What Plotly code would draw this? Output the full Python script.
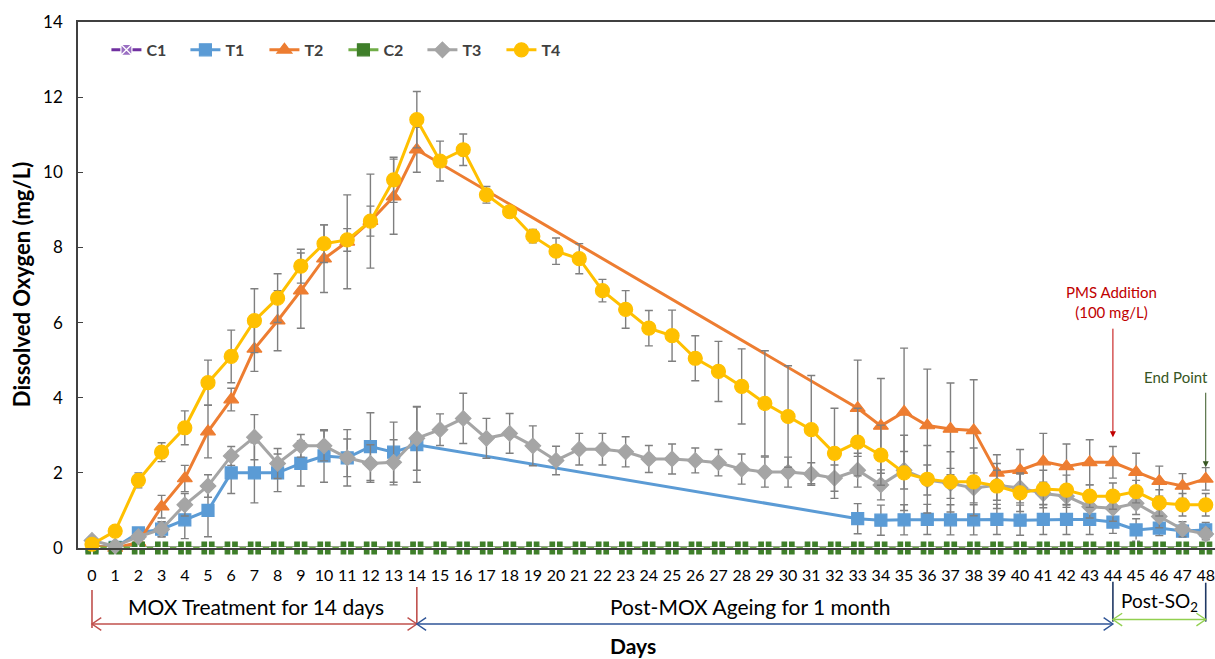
import plotly.graph_objects as go

days = [0, 1, 2, 3, 4, 5, 6, 7, 8, 9, 10, 11, 12, 13, 14, 15, 16, 17, 18, 19, 20, 21, 22, 23, 24,
        25, 26, 27, 28, 29, 30, 31, 32, 33, 34, 35, 36, 37, 38, 39, 40, 41, 42, 43, 44, 45, 46, 47, 48]
day_labels = [str(d) for d in days]

C1 = [0.0, 0.0, 0.0, 0.0, 0.0, 0.0, 0.0, 0.0, 0.0, 0.0, 0.0, 0.0, 0.0, 0.0, 0.0, 0.0, 0.0, 0.0, 0.0, 0.0,
      0.0, 0.0, 0.0, 0.0, 0.0, 0.0, 0.0, 0.0, 0.0, 0.0, 0.0, 0.0, 0.0, 0.0, 0.0, 0.0, 0.0, 0.0, 0.0, 0.0,
      0.0, 0.0, 0.0, 0.0, 0.0, 0.0, 0.0, 0.0, 0.0]
C2 = [0.0, 0.0, 0.0, 0.0, 0.0, 0.0, 0.0, 0.0, 0.0, 0.0, 0.0, 0.0, 0.0, 0.0, 0.0, 0.0, 0.0, 0.0, 0.0, 0.0,
      0.0, 0.0, 0.0, 0.0, 0.0, 0.0, 0.0, 0.0, 0.0, 0.0, 0.0, 0.0, 0.0, 0.0, 0.0, 0.0, 0.0, 0.0, 0.0, 0.0,
      0.0, 0.0, 0.0, 0.0, 0.0, 0.0, 0.0, 0.0, 0.0]

T1 = [0.05, 0.02, 0.4, 0.5, 0.75, 1.0, 2.0, 2.0, 2.0, 2.25, 2.45, 2.4, 2.7, 2.55, 2.75,
      None, None, None, None, None, None, None, None, None, None, None, None, None, None, None, None, None, None,
      0.78, 0.74, 0.75, 0.76, 0.75, 0.75, 0.76, 0.74, 0.76, 0.76, 0.76, 0.69, 0.48, 0.53, 0.45, 0.48]
T1_err = [0.05, 0.05, 0.1, 0.2, 0.5, 0.7, 0.55, 0.8, 0.5, 0.6, 0.7, 0.5, 0.9, 0.8, 1.0,
          None, None, None, None, None, None, None, None, None, None, None, None, None, None, None, None, None, None,
          0.4, 0.4, 0.4, 0.4, 0.4, 0.4, 0.4, 0.4, 0.4, 0.4, 0.4, 0.3, 0.3, 0.2, 0.15, 0.2]

T2 = [0.05, 0.0, 0.15, 1.1, 1.85, 3.1, 3.95, 5.3, 6.05, 6.85, 7.7, 8.15, 8.7, 9.35, 10.6,
      None, None, None, None, None, None, None, None, None, None, None, None, None, None, None, None, None, None,
      3.72, 3.25, 3.62, 3.26, 3.17, 3.13, 2.0, 2.07, 2.3, 2.17, 2.28, 2.28, 2.02, 1.78, 1.65, 1.84]
T2_err = [0.05, 0.05, 0.1, 0.3, 0.35, 0.7, 0.3, 0.6, 0.8, 1.0, 0.9, 1.25, 0.4, 1.0, 0.6,
          None, None, None, None, None, None, None, None, None, None, None, None, None, None, None, None, None, None,
          1.28, 1.26, 1.7, 1.5, 1.22, 1.35, 0.48, 0.55, 0.75, 0.6, 0.6, 0.42, 0.5, 0.4, 0.33, 0.3]

T3 = [0.2, 0.05, 0.3, 0.5, 1.15, 1.65, 2.45, 2.95, 2.25, 2.72, 2.72, 2.4, 2.25, 2.28, 2.92,
      3.15, 3.45, 2.92, 3.05, 2.72, 2.33, 2.63, 2.63, 2.56, 2.37, 2.37, 2.33, 2.27, 2.1, 2.02,
      2.02, 1.97, 1.86, 2.07, 1.68, 2.07, 1.81, 1.72, 1.6, 1.67, 1.6, 1.45, 1.38, 1.1, 1.06,
      1.19, 0.84, 0.5, 0.37]
T3_err = [0.1, 0.05, 0.1, 0.2, 0.3, 0.3, 0.25, 0.6, 0.4, 0.3, 0.4, 0.75, 0.5, 0.6, 0.85,
          0.42, 0.67, 0.53, 0.53, 0.53, 0.38, 0.42, 0.42, 0.4, 0.36, 0.4, 0.33, 0.35, 0.4, 0.4,
          0.4, 0.3, 0.35, 0.45, 0.4, 0.5, 0.4, 0.4, 0.4, 0.4, 0.4, 0.3, 0.3, 0.3, 0.35,
          0.3, 0.3, 0.2, 0.15]

T4 = [0.1, 0.45, 1.8, 2.55, 3.2, 4.4, 5.1, 6.05, 6.65, 7.5, 8.1, 8.2, 8.7, 9.8, 11.4,
      10.3, 10.6, 9.4, 8.95, 8.3, 7.9, 7.7, 6.85, 6.35, 5.85, 5.65, 5.05, 4.7, 4.3, 3.85,
      3.5, 3.15, 2.52, 2.82, 2.47, 2.0, 1.83, 1.76, 1.76, 1.65, 1.47, 1.57, 1.54, 1.38, 1.38,
      1.5, 1.2, 1.15, 1.15]
T4_err = [0.1, 0.1, 0.2, 0.25, 0.45, 0.6, 0.7, 0.85, 0.65, 0.45, 0.5, 0.3, 1.25, 0.6, 0.75,
          0.53, 0.42, 0.22, 0.15, 0.18, 0.35, 0.4, 0.3, 0.5, 0.47, 0.68, 0.6, 0.8, 1.0, 1.4,
          1.35, 1.44, 1.2, 0.9, 0.8, 1.0, 0.9, 0.8, 0.9, 0.6, 0.5, 0.5, 0.4, 0.3, 0.35,
          0.3, 0.35, 0.3, 0.3]

FONT = "Lato"
ERR_COLOR = "#7F7F7F"

fig = go.Figure()


def add_series(name, y, err, color, symbol, size, mcolor=None, mline=None):
    kw = {}
    if err is not None:
        kw["error_y"] = dict(type="data", array=err, visible=True, color=ERR_COLOR,
                             thickness=1.4, width=4)
    fig.add_trace(go.Scatter(
        x=days, y=y, name=name, mode="lines+markers", connectgaps=True, cliponaxis=False,
        line=dict(color=color, width=3),
        marker=dict(symbol=symbol, size=size, color=mcolor or color,
                    line=dict(color=mline or (mcolor or color), width=1.2)),
        **kw))


add_series("C1", C1, None, "#7030A0", "square-x", 11, mcolor="#9A6FC2", mline="#FFFFFF")
add_series("T1", T1, T1_err, "#5B9BD5", "square", 12)
add_series("T2", T2, T2_err, "#ED7D31", "triangle-up", 13)
add_series("C2", C2, None, "#70AD47", "square", 12, mcolor="#3F7F2A", mline="#3F7F2A")
# white cross drawn over the green squares
fig.add_trace(go.Scatter(x=days, y=C2, mode="markers", showlegend=False, hoverinfo="skip",
                         cliponaxis=False,
                         marker=dict(symbol="cross-thin", size=12, color="#FFFFFF",
                                     line=dict(color="#FFFFFF", width=1.8))))
add_series("T3", T3, T3_err, "#A5A5A5", "diamond", 12)
add_series("T4", T4, T4_err, "#FFC000", "circle", 14)

# ---- bottom period annotations (shapes) ----
shapes = []
head_dx = 0.40
head_dy = 0.012


def vline(xd, y0, y1, color):
    shapes.append(dict(type="line", xref="x", yref="paper", x0=xd, x1=xd, y0=y0, y1=y1,
                       line=dict(color=color, width=1.6)))


def harrow(xa, xb, ya, color):
    shapes.append(dict(type="line", xref="x", yref="paper", x0=xa, x1=xb, y0=ya, y1=ya,
                       line=dict(color=color, width=1.4)))
    for xt, sgn in ((xa, 1), (xb, -1)):
        shapes.append(dict(type="path", xref="x", yref="paper",
                           path=f"M {xt + sgn * head_dx},{ya + head_dy} L {xt},{ya} L {xt + sgn * head_dx},{ya - head_dy}",
                           line=dict(color=color, width=1.4)))


vline(0, -0.080, -0.152, "#C0504D")
vline(14, -0.074, -0.143, "#C0504D")
vline(44, -0.064, -0.140, "#1F3864")
vline(48, -0.066, -0.140, "#1F3864")
harrow(0, 14, -0.1445, "#C0504D")
harrow(14, 44, -0.1445, "#2F5597")
harrow(44, 48, -0.136, "#92D050")

annotations = [
    dict(text="MOX Treatment for 14 days", x=7.05, y=-0.112, xref="x", yref="paper",
         xanchor="center", yanchor="middle",
         showarrow=False, font=dict(family=FONT, size=21, color="#000000")),
    dict(text="Post-MOX Ageing for 1 month", x=28.4, y=-0.112, xref="x", yref="paper",
         xanchor="center", yanchor="middle",
         showarrow=False, font=dict(family=FONT, size=21, color="#000000")),
    dict(text="Post-SO<sub>2</sub>", x=46.0, y=-0.103, xref="x", yref="paper",
         xanchor="center", yanchor="middle",
         showarrow=False, font=dict(family=FONT, size=19, color="#000000")),
    dict(text="<b>Days</b>", x=0.488, y=-0.185, xref="paper", yref="paper",
         xanchor="center", yanchor="middle",
         showarrow=False, font=dict(family=FONT, size=21, color="#000000")),
    dict(text="<b>Dissolved Oxygen (mg/L)</b>", x=-0.05, y=0.5, xref="paper", yref="paper",
         xanchor="center", yanchor="middle",
         textangle=-90, showarrow=False, font=dict(family=FONT, size=22, color="#000000")),
    dict(text="PMS Addition<br>(100 mg/L)", x=43.95, y=6.55, xref="x", yref="y",
         showarrow=False, font=dict(family=FONT, size=15, color="#C00000")),
    dict(text="", x=44, y=2.95, xref="x", yref="y", ax=0, ay=-110, showarrow=True,
         arrowhead=2, arrowsize=1.2, arrowwidth=1, arrowcolor="#C00000"),
    dict(text="End Point", x=46.7, y=4.55, xref="x", yref="y",
         showarrow=False, font=dict(family=FONT, size=15, color="#375623")),
    dict(text="", x=48, y=2.15, xref="x", yref="y", ax=0, ay=-76, showarrow=True,
         arrowhead=2, arrowsize=1.2, arrowwidth=1, arrowcolor="#375623"),
]

fig.update_layout(
    width=1215, height=659,
    margin=dict(l=78, r=0, t=22, b=111),
    plot_bgcolor="#FFFFFF", paper_bgcolor="#FFFFFF",
    font=dict(family=FONT, size=16, color="#000000"),
    showlegend=True,
    legend=dict(orientation="h", x=0.025, y=0.947, xanchor="left", yanchor="middle",
                font=dict(family=FONT, size=16, color="#404040", weight="bold"),
                bgcolor="rgba(0,0,0,0)", entrywidth=34, entrywidthmode="pixels"),
    shapes=shapes,
    annotations=annotations,
)
fig.update_xaxes(range=[-0.603, 48.4], tickmode="array", tickvals=days, ticktext=day_labels,
                 showline=True, linecolor="#404040", linewidth=1.5, mirror=True,
                 showgrid=False, zeroline=False, ticks="", ticklabelstandoff=12,
                 ticklabeloverflow="allow",
                 tickfont=dict(family=FONT, size=16, color="#000000"))
fig.update_yaxes(range=[0, 14], dtick=2, showline=True, linecolor="#404040", linewidth=1.5,
                 mirror=False, showgrid=False, zeroline=False, ticks="inside", ticklen=5,
                 tickcolor="#404040", ticklabelstandoff=10,
                 tickfont=dict(family=FONT, size=17, color="#000000"))

fig.write_html("out.html", config={"displayModeBar": False},
               post_script="document.body.style.margin='0';document.body.style.overflow='hidden';")
